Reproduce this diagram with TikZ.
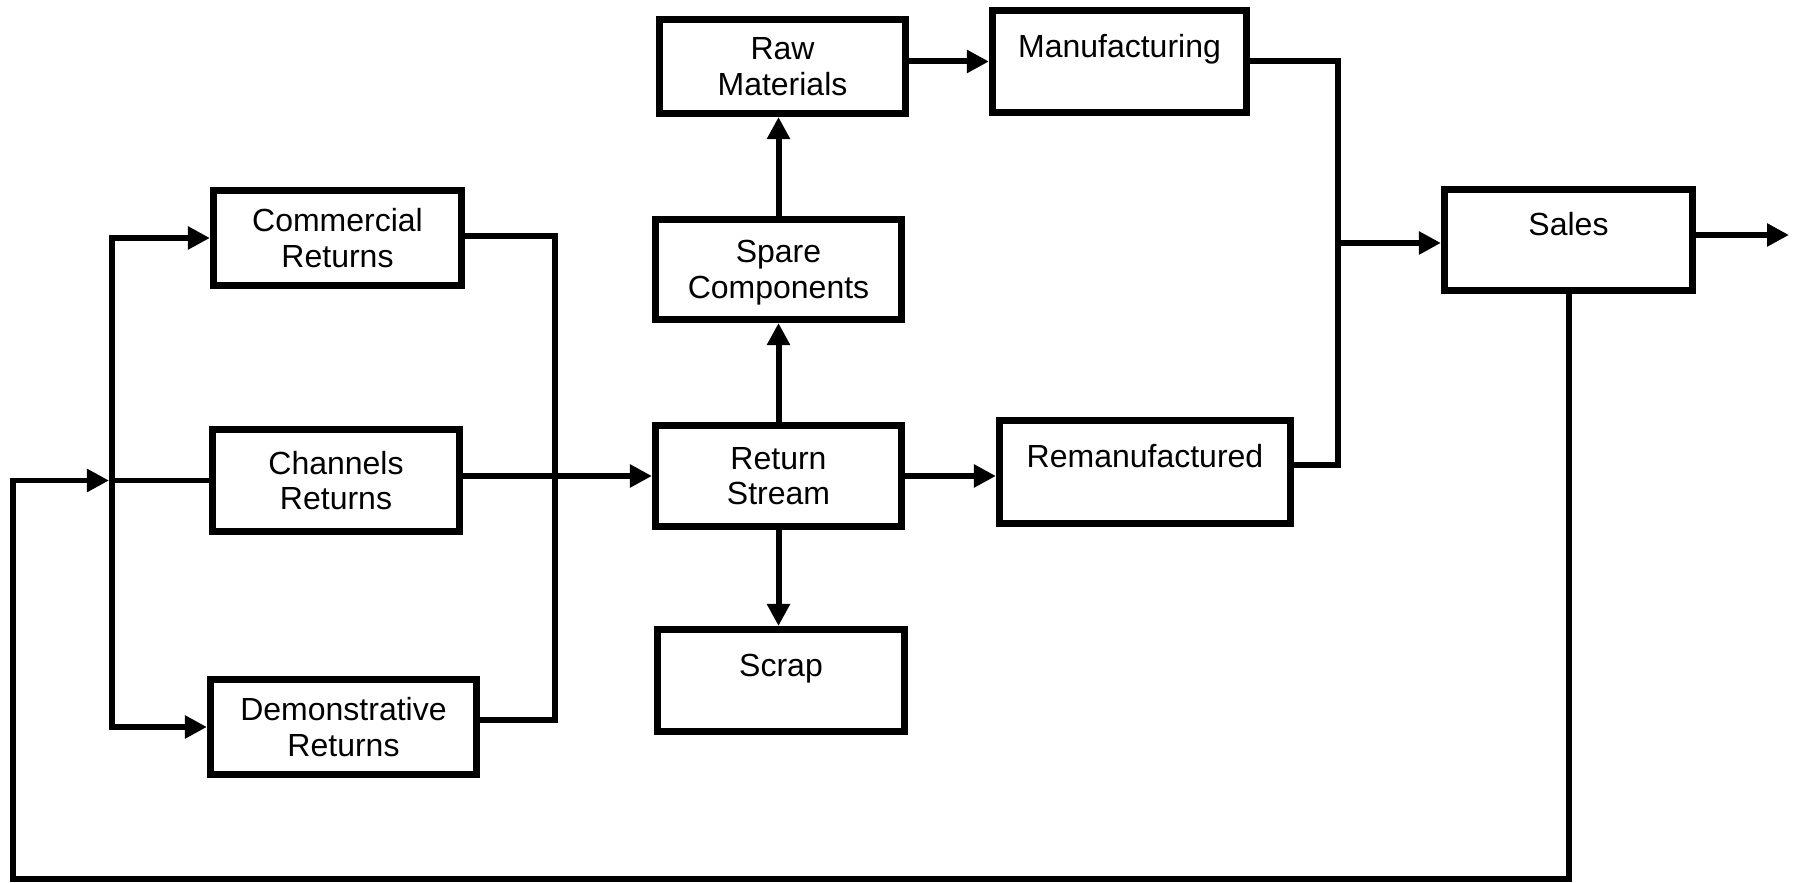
\documentclass[tikz,border=0pt]{standalone}
\usepackage{fontspec}
\setmainfont{Liberation Sans}
\usetikzlibrary{arrows.meta}
\newcommand\boxfont{\fontsize{9.1pt}{10.13pt}\selectfont}

\begin{document}
\begin{tikzpicture}[x=0.01cm,y=-0.01cm,
  box/.style={draw, line width=2pt, inner sep=0pt, align=center, font=\boxfont, text depth=0pt},
  single/.style={text height=0.23cm, text depth=0.31cm},
  line/.style={line width=1.7pt},
  arr/.style={line, -{Triangle[length=0.22cm,width=0.22cm]}}]
\useasboundingbox (0,0) rectangle (1800,883);

% process boxes
\node[box, minimum width=2.48cm, minimum height=0.95cm] (com) at (337.5,238) {Commercial\\Returns};
\node[box, minimum width=2.47cm, minimum height=1.02cm] (chan) at (336,480.5) {Channels\\Returns};
\node[box, minimum width=2.66cm, minimum height=0.95cm] (demo) at (343.5,727) {Demonstrative\\Returns};
\node[box, minimum width=2.46cm, minimum height=0.94cm] (raw) at (782.5,66.5) {Raw\\Materials};
\node[box, minimum width=2.46cm, minimum height=1.00cm] (spare) at (778.5,269.5) {Spare\\Components};
\node[box, minimum width=2.46cm, minimum height=1.01cm] (ret) at (778.5,476) {Return\\Stream};
\node[box, single, minimum width=2.47cm, minimum height=1.02cm] (scrap) at (781,680.5) {Scrap};
\node[box, single, minimum width=2.54cm, minimum height=1.02cm] (manu) at (1119.5,61.5) {Manufacturing};
\node[box, single, minimum width=2.91cm, minimum height=1.03cm] (reman) at (1145,472) {Remanufactured};
\node[box, single, minimum width=2.48cm, minimum height=1.01cm] (sales) at (1568.5,240) {Sales};

% return stream branches
\draw[arr] (ret.north) -- (spare.south);
\draw[arr] (spare.north) -- (spare.north |- raw.south);
\draw[arr] (ret.south) -- (ret.south |- scrap.north);
\draw[arr] (raw.east |- manu.west) -- (manu.west);
\draw[arr] (ret.east) -- (ret.east -| reman.west);

% left distribution bus
\coordinate (lbT) at (112,238);
\coordinate (lbM) at (112,480.5);
\coordinate (lbB) at (112,727);
\draw[arr] (lbM) -- (lbT) -- (com.west);
\draw[arr] (lbM) -- (lbB) -- (demo.west);
\draw[line] (chan.west) -- (lbM);

% right collecting bus
\coordinate (rbT) at (555,236);
\coordinate (rbB) at (555,720);
\draw[line] (com.east |- rbT) -- (rbT) -- (rbB) -- (demo.east |- rbB);
\draw[arr] (chan.east |- ret.west) -- (ret.west);

% merge into sales
\coordinate (mT) at (1338,61.5);
\coordinate (mB) at (1338,465);
\coordinate (mS) at (1338,243);
\draw[line] (manu.east) -- (mT) -- (mB) -- (reman.east |- mB);
\draw[arr] (mS) -- (sales.west |- mS);
\coordinate (out) at (1789,235);
\draw[arr] (sales.east |- out) -- (out);

% feedback loop
\coordinate (fbR) at (1568.5,879);
\coordinate (fbL) at (13,879);
\draw[arr, shorten >=0.03cm] (sales.south) -- (fbR) -- (fbL) -- (fbL |- lbM) -- (lbM);
\end{tikzpicture}
\end{document}
